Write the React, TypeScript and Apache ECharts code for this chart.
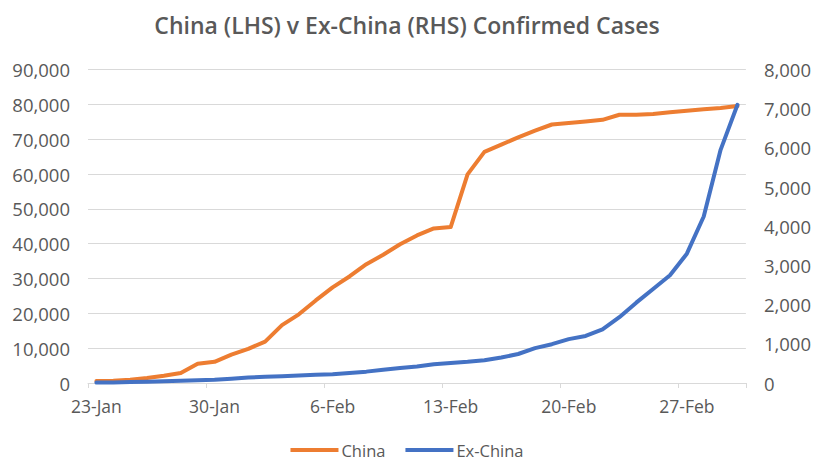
import React, { useEffect, useRef } from "react";
import * as echarts from "echarts";

const dates = [
  "23-Jan", "24-Jan", "25-Jan", "26-Jan", "27-Jan", "28-Jan", "29-Jan", "30-Jan", "31-Jan",
  "1-Feb", "2-Feb", "3-Feb", "4-Feb", "5-Feb", "6-Feb", "7-Feb", "8-Feb", "9-Feb", "10-Feb",
  "11-Feb", "12-Feb", "13-Feb", "14-Feb", "15-Feb", "16-Feb", "17-Feb", "18-Feb", "19-Feb",
  "20-Feb", "21-Feb", "22-Feb", "23-Feb", "24-Feb", "25-Feb", "26-Feb", "27-Feb", "28-Feb",
  "29-Feb", "1-Mar",
];

const china = [
  548, 643, 920, 1406, 2075, 2877, 5509, 6087, 8141, 9802, 11891, 16630, 19716, 23707, 27440,
  30587, 34110, 36814, 39829, 42354, 44386, 44759, 59895, 66358, 68413, 70513, 72434, 74211,
  74619, 75077, 75550, 77001, 77022, 77241, 77754, 78166, 78600, 78928, 79500,
];

const exChina = [
  10, 15, 25, 35, 45, 55, 70, 85, 110, 140, 160, 175, 190, 210, 225, 255, 290, 340, 380, 420,
  480, 510, 540, 580, 650, 740, 890, 990, 1120, 1200, 1370, 1680, 2050, 2400, 2750, 3300, 4250,
  5950, 7100,
];

const seriesNames = ["China", "Ex-China"];
const titleText = "China (LHS) v Ex-China (RHS) Confirmed Cases";

export default function App() {
  const ref = useRef<HTMLDivElement>(null);
  useEffect(() => {
    if (!ref.current) return;
    const chart = echarts.init(ref.current, undefined, { renderer: "svg" });
    const font = "'Open Sans', sans-serif";
    const gray = "#595959";
    const fmt = (v: number) => v.toLocaleString("en-US");
    chart.setOption({
      animation: false,
      backgroundColor: "#ffffff",
      title: {
        text: titleText,
        left: "center",
        top: 8,
        textStyle: { fontFamily: font, fontSize: 23, fontWeight: 600, color: gray },
      },
      legend: {
        top: 440,
        left: "center",
        padding: 0,
        icon: "rect",
        itemWidth: 48,
        itemHeight: 4,
        itemGap: 20,
        textStyle: { fontFamily: font, fontSize: 16.5, lineHeight: 20, color: gray, padding: [0, 0, 0, -2] },
        data: seriesNames,
      },
      grid: { left: 88, right: 67, top: 69.5, bottom: 81 },
      xAxis: {
        type: "category",
        data: dates,
        boundaryGap: true,
        axisLine: { show: true, lineStyle: { color: "#D9D9D9", width: 1 } },
        axisTick: { show: true, interval: 6, length: 5, lineStyle: { color: "#D9D9D9" } },
        axisLabel: {
          interval: 6,
          margin: 14,
          fontFamily: font,
          fontSize: 17.5,
          color: gray,
        },
        splitLine: { show: false },
      },
      yAxis: [
        {
          type: "value",
          min: 0,
          max: 90000,
          interval: 10000,
          axisLine: { show: false },
          axisTick: { show: false },
          axisLabel: { margin: 18, fontFamily: font, fontSize: 18.5, color: gray, formatter: fmt },
          splitLine: { show: true, lineStyle: { color: "#D9D9D9", width: 1 } },
        },
        {
          type: "value",
          min: 0,
          max: 8000,
          interval: 1000,
          axisLine: { show: false },
          axisTick: { show: false },
          axisLabel: { margin: 18, fontFamily: font, fontSize: 18.5, color: gray, formatter: fmt },
          splitLine: { show: false },
        },
      ],
      series: [
        {
          name: seriesNames[0],
          type: "line",
          yAxisIndex: 0,
          data: china,
          symbol: "none",
          color: "#ED7D31",
          lineStyle: { width: 4, color: "#ED7D31", join: "round", cap: "round" },
        },
        {
          name: seriesNames[1],
          type: "line",
          yAxisIndex: 1,
          data: exChina,
          symbol: "none",
          color: "#4472C4",
          lineStyle: { width: 4, color: "#4472C4", join: "round", cap: "round" },
        },
      ],
    });
    return () => chart.dispose();
  }, []);
  return (
    <div
      ref={ref}
      style={{ position: "fixed", left: 0, top: 0, width: 814, height: 464, background: "#fff" }}
    />
  );
}
